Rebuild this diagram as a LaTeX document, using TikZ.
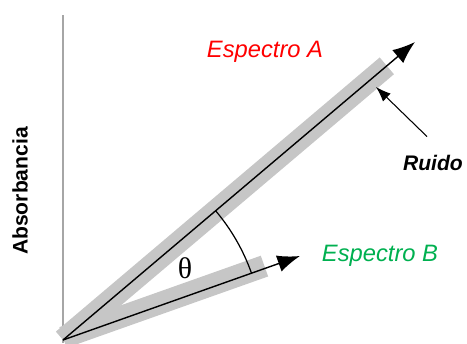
\documentclass[tikz,border=0pt]{standalone}
\usepackage{fontspec}
\setmainfont{Liberation Sans}
\usetikzlibrary{arrows.meta,calc}
\definecolor{verdeB}{RGB}{0,176,80}

\begin{document}
\begin{tikzpicture}[>={Latex[length=0.45cm,width=0.34cm]}]
	% Estilos comunes
	\tikzset{
		vector/.style={->, line width=0.8pt, black},
		banda/.style={line width=0.44cm, gray!45},
		etiqueta/.style={font=\itshape\fontsize{13.5}{15}\selectfont}
	}
	\useasboundingbox (0,0) rectangle (9.34,6.86);
	
	% Puntos principales
	\coordinate (o) at (1.26,0.06);
	\coordinate (a) at (8.30,6.02);
	\coordinate (b) at (6.00,1.74);
	
	% Eje de absorbancia
	\draw[gray!70, line width=0.8pt] (1.26,0) -- (1.26,6.56);
	\node[rotate=90, font=\bfseries\fontsize{12}{14}\selectfont] (absor) at (0.40,3.04) {Absorbancia};
	
	% Bandas de ruido
	\draw[banda] (o) -- ($(o)!0.92!(a)$);
	\draw[banda] ([yshift=0.05cm]o) -- ([yshift=0.05cm]$(o)!0.85!(b)$);
	
	% Vectores de los espectros
	\draw[vector] (o) -- (a);
	\draw[vector] (o) -- (b);
	\node[etiqueta, red] (espA) at (5.30,5.82) {Espectro A};
	\node[etiqueta, verdeB] (espB) at (7.60,1.74) {Espectro B};
	
	% Angulo entre espectros
	\draw[line width=0.7pt] ($(o)+(40.25:4)$) arc (40.25:19.5:4);
	\node[font=\fontspec{Liberation Serif}\fontsize{17}{19}\selectfont] (theta) at (3.70,1.50) {θ};
	
	% Ruido
	\node[font=\bfseries\itshape\fontsize{12}{14}\selectfont] (ruido) at (8.66,3.60) {Ruido};
	\coordinate (ruidotip) at (7.52,5.12);
	\draw[->, >={Latex[length=0.3cm,width=0.22cm]}, line width=0.6pt] ([xshift=-0.12cm,yshift=0.25cm]ruido.north) -- (ruidotip);
\end{tikzpicture}
\end{document}
